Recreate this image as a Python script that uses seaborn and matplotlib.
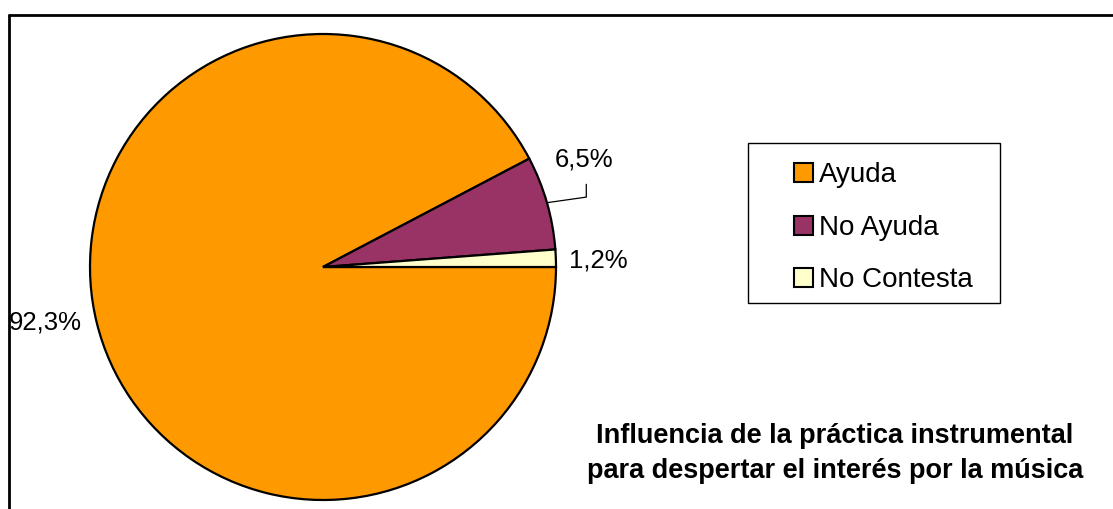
import matplotlib.pyplot as plt
import matplotlib.patches as mpatches
from matplotlib.lines import Line2D
import numpy as np
import seaborn as sns

# DATA
categories = ["Ayuda", "No Ayuda", "No Contesta"]
values = [92.3, 6.5, 1.2]
value_labels = ["92,3%", "6,5%", "1,2%"]
colors = ["#FF9900", "#993366", "#FFFFCC"]

title_lines = ["Influencia de la práctica instrumental",
               "para despertar el interés por la música"]

sns.set_theme(style="white")
plt.rcParams['font.family'] = ['Liberation Sans', 'DejaVu Sans']
plt.rcParams['text.color'] = 'black'

W, H = 1113, 509
fig = plt.figure(figsize=(W / 100, H / 100), dpi=100)

# pie axes: centre (323, 267) px, radius 233 px
cx, cy, r = 323, 267, 233
ax = fig.add_axes([(cx - r) / W, (H - cy - r) / H, 2 * r / W, 2 * r / H])
wedges, _ = ax.pie(values, colors=colors, startangle=0, counterclock=False,
                   radius=1, wedgeprops=dict(edgecolor="black", linewidth=1.6))
ax.set_xlim(-1, 1)
ax.set_ylim(-1, 1)
ax.set_axis_off()

# label placement (data units relative to pie)
label_pos = [(-1.19, -0.237), (1.12, 0.46), (1.18, 0.03)]
for lab, (x, y) in zip(value_labels, label_pos):
    ax.text(x, y, lab, fontsize=18.5, ha="center", va="center", clip_on=False,
            color="black")

# leader line for the small purple slice
w = wedges[1]
mid = np.deg2rad((w.theta1 + w.theta2) / 2)
ax.plot([np.cos(mid), 1.13, 1.13], [np.sin(mid), 0.30, 0.355],
        color="black", linewidth=0.9, clip_on=False)

# outer chart frame (left and top edges visible)
fig.add_artist(Line2D([8.5 / W, 8.5 / W], [0, 1 - 14.5 / H], color="black",
                      linewidth=2, transform=fig.transFigure))
fig.add_artist(Line2D([8.5 / W, 1], [1 - 14.5 / H, 1 - 14.5 / H], color="black",
                      linewidth=2, transform=fig.transFigure))

# legend box
fig.add_artist(mpatches.Rectangle((748 / W, 1 - 303 / H), 252 / W, 160 / H,
                                  transform=fig.transFigure, fill=False,
                                  edgecolor="black", linewidth=1))
handles = [mpatches.Patch(facecolor=c, edgecolor="black", linewidth=1.5) for c in colors]
leg = fig.legend(handles, categories, loc="upper left",
                 bbox_to_anchor=(775 / W, 1 - 143 / H), frameon=False,
                 fontsize=20, handlelength=0.68, handleheight=0.68,
                 handletextpad=0.2, labelspacing=0.95, borderpad=0.2)
for t in leg.get_texts():
    t.set_color("black")

for i, line in enumerate(title_lines):
    fig.text(835 / W, 1 - (436 + 35 * i) / H, line, fontsize=19.5,
             fontweight="bold", ha="center", va="center", color="black")

fig.savefig("out.png", dpi=100)
